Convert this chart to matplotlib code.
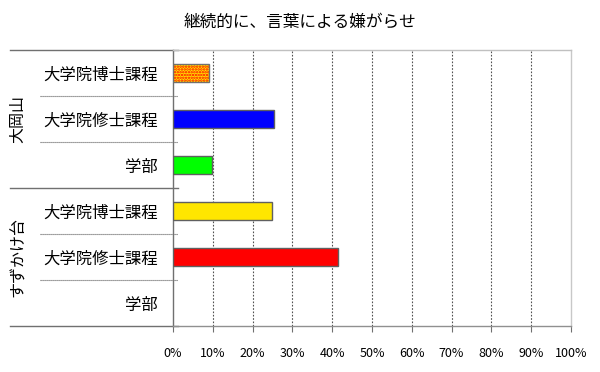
import matplotlib
matplotlib.use("Agg")
import matplotlib.pyplot as plt
from matplotlib.transforms import blended_transform_factory

plt.rcParams['font.family'] = ['Noto Sans CJK JP', 'DejaVu Sans']
plt.rcParams['hatch.linewidth'] = 1.2

title = "継続的に、言葉による嫌がらせ"
categories = ["大学院博士課程", "大学院修士課程", "学部",
              "大学院博士課程", "大学院修士課程", "学部"]
groups = ["大岡山", "すずかけ台"]
values = [9.1, 25.4, 9.7, 24.9, 41.5, 0.0]
colors = ["#FFE600", "#0000FF", "#00FF00", "#FFE600", "#FF0000", "#FFFFFF"]
hatches = ["......", "", "", "", "", ""]
hatch_colors = ["#FF0000", None, None, None, None, None]
xticks = [0, 10, 20, 30, 40, 50, 60, 70, 80, 90, 100]
xtick_labels = [f"{t}%" for t in xticks]

fig = plt.figure(figsize=(6, 3.72), dpi=100)
ax = fig.add_axes([173/600, 1-326/372, 398/600, 276/372])

ys = list(range(len(categories)))
for y, v, c, h, hc in zip(ys, values, colors, hatches, hatch_colors):
    if v <= 0:
        continue
    if h:
        ax.barh(y, v, height=0.4, color=c, edgecolor=hc, hatch=h, linewidth=0, zorder=3)
        ax.barh(y, v, height=0.4, fill=False, edgecolor="#707070", linewidth=1.0, zorder=4)
    else:
        ax.barh(y, v, height=0.4, color=c, edgecolor="#606060", linewidth=1.0, zorder=3)

ax.set_xlim(0, 100)
ax.set_ylim(len(categories) - 0.5, -0.5)
ax.set_xticks(xticks)
ax.set_xticklabels(xtick_labels, fontsize=9)
ax.tick_params(axis='x', direction='out', length=4, width=0.8, color="#707070", pad=11)
ax.set_yticks(ys)
ax.set_yticklabels(categories, fontsize=11.8)
ax.tick_params(axis='y', length=0, pad=11)

for t in xticks[1:-1]:
    ax.axvline(t, color="#505050", linestyle=(0, (1.5, 1.5)), linewidth=0.8, zorder=1)

ax.spines['left'].set_color("#707070")
ax.spines['bottom'].set_color("#909090")
ax.spines['top'].set_color("#C0C0C0")
ax.spines['right'].set_color("#C8C8C8")
for s in ax.spines.values():
    s.set_linewidth(1.0)

tr = blended_transform_factory(ax.transAxes, ax.transData)
x_outer = (10 - 173) / 398
x_inner = (40 - 173) / 398
x_end = (178 - 173) / 398
for yb in [-0.5, 2.5, 5.5]:
    ax.plot([x_outer, x_end], [yb, yb], color="#707070", linewidth=1.0,
            transform=tr, clip_on=False)
for yb in [0.5, 1.5, 3.5, 4.5]:
    ax.plot([x_inner, x_end], [yb, yb], color="#606060", linewidth=0.8,
            linestyle=(0, (1, 0.8)), transform=tr, clip_on=False)

x_group = (18 - 173) / 398
for gi, g in enumerate(groups):
    ax.text(x_group, gi * 3 + 1, g, transform=tr, rotation=90,
            ha='center', va='center', fontsize=11.5)

fig.text(0.5, 1 - 22/372, title, ha='center', va='center', fontsize=12)

fig.savefig("out.png", dpi=100)
